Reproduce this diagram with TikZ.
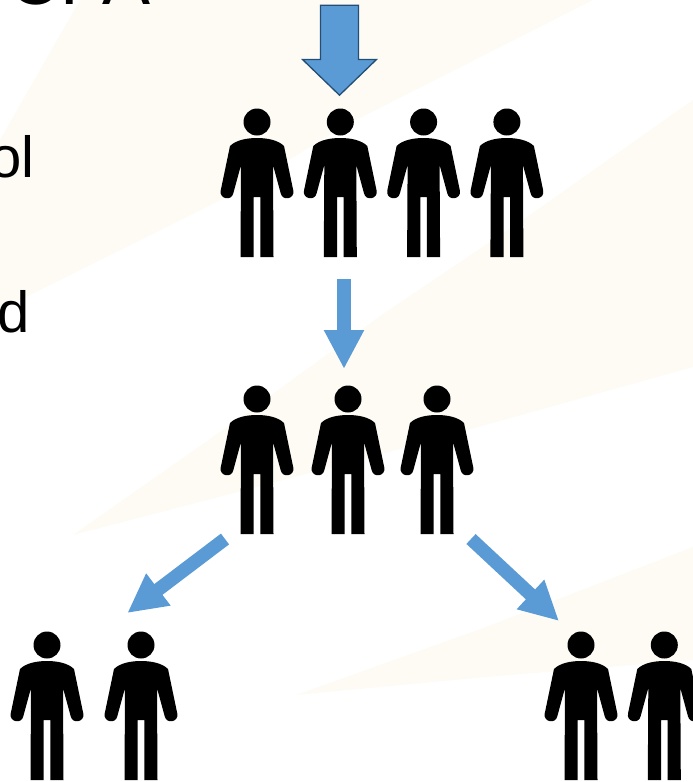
\documentclass[tikz,border=0pt]{standalone}
\usepackage{xcolor}
\usepackage{fontspec}
\setmainfont{Liberation Sans}
\usepackage{tikz}
\usetikzlibrary{shapes,arrows,arrows.meta}
\definecolor{arrowblue}{HTML}{5B9BD5}
\definecolor{arrowedge}{HTML}{234E75}
\definecolor{wash}{HTML}{FDFBF4}
\tikzstyle{person} = [rectangle, inner sep=0pt, minimum width=76pt, minimum height=150pt, path picture={
    \fill[shift={(path picture bounding box.center)}] (0,-61) circle (13.5pt);
    \fill[shift={(path picture bounding box.center)}] (0,-45) .. controls (10,-45) and (21,-43) .. (27,-37)
      -- (36.3,7.6) .. controls (38,16) and (25.4,18.4) .. (23.7,10.3) -- (16,-18) -- (16.5,74) -- (3.3,74) -- (3.3,14)
      -- (-3.3,14) -- (-3.3,74) -- (-16.5,74) -- (-16,-18) -- (-23.7,10.3) .. controls (-25.4,18.4) and (-38,16) .. (-36.3,7.6)
      -- (-27,-37) .. controls (-21,-43) and (-10,-45) .. (0,-45) -- cycle;}]
\tikzstyle{line} = [draw=arrowblue, line width=13.5pt, -{Triangle[length=39pt,width=37.5pt]}]
\tikzstyle{bigarrow} = [single arrow, draw=arrowedge, fill=arrowblue, line width=1.3pt, rotate=-90, inner xsep=0pt, inner ysep=18.4pt,
    minimum height=90pt, minimum width=73pt, single arrow head extend=18pt, single arrow tip angle=92]
\tikzstyle{ray} = [fill=wash]
\tikzstyle{bigtext} = [inner sep=0pt, font=\fontsize{72}{72}\selectfont]
\tikzstyle{bodytext} = [inner sep=0pt, font=\fontsize{58}{58}\selectfont]
\begin{document}
\begin{tikzpicture}[x=1pt, y=-1pt, node distance = 83.3pt]
    \useasboundingbox (0,0) rectangle (693,782);
    % Background rays
    \path [ray] (80,0) -- (0,140) -- (0,310) -- (227,197) -- (350,123) -- (593,0) -- cycle;
    \path [ray] (73,535) -- (227,427) -- (383,314) -- (527,217) -- (693,100) -- (693,367) -- (389,452) -- (234,493) -- cycle;
    \path [ray] (296,695) -- (486,627) -- (693,547) -- (693,660) -- (486,677) -- cycle;

    % Cut off text
    \node [bigtext, anchor=base west] (heading) at (8,4.5) {CPA};
    \node [bodytext, anchor=base east] (lineone) at (35,177) {ol};
    \node [bodytext, anchor=base east] (linetwo) at (30,332) {d};

    % Place nodes
    \node [person] (top1) at (257,183) {};
    \node [person, right of=top1] (top2) {};
    \node [person, right of=top2] (top3) {};
    \node [person, right of=top3] (top4) {};
    \node [person] (mid1) at (257,460) {};
    \node [person, right of=mid1, node distance=91pt] (mid2) {};
    \node [person, right of=mid2, node distance=89pt] (mid3) {};
    \node [person] (left1) at (47,706) {};
    \node [person, right of=left1, node distance=94pt] (left2) {};
    \node [person] (right1) at (581,706) {};
    \node [person, right of=right1] (right2) {};
    \node [bigarrow] (intake) at (339.5,41) {};

    \coordinate (downstart) at (344,279);
    \coordinate (downend) at (344,369);
    \coordinate (leftstart) at (225,539);
    \coordinate (leftend) at (127.3,613);
    \coordinate (rightstart) at (471,539);
    \coordinate (rightend) at (559,621);

    % Draw edges
    \path [line] (downstart) -- (downend);
    \path [line] (leftstart) -- (leftend);
    \path [line] (rightstart) -- (rightend);
\end{tikzpicture}
\end{document}
